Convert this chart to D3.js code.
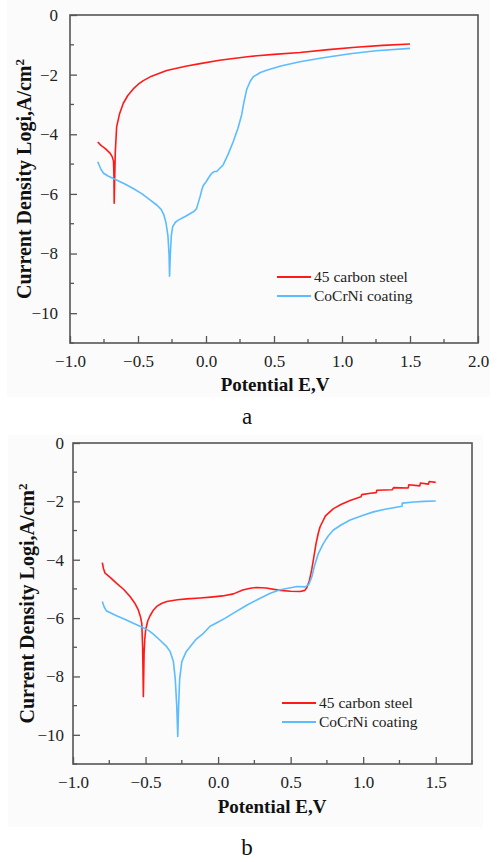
<!DOCTYPE html>
<html>
<head>
<meta charset="utf-8">
<script src="https://d3js.org/d3.v7.min.js"></script>
<style>
  body { margin: 0; background: #fff; }
  svg { display: block; }
  svg text { font-family: "Times New Roman", "Liberation Serif", Times !important; }
</style>
</head>
<body>
<svg id="chart" width="497" height="862"></svg>
<script>
// series names / colours
var seriesNames = ["45 carbon steel", "CoCrNi coating"];
var seriesColors = ["#ff1a1a", "#5bbcff"];

// panel a: [potential E (V), log i]
var steelA = [[-0.796,-4.26],[-0.77,-4.38],[-0.74,-4.48],[-0.706,-4.63],[-0.69,-4.75],[-0.68,-4.9],[-0.677,-5.4],[-0.675,-6.31],
  [-0.672,-5.6],[-0.667,-4.6],[-0.657,-3.75],[-0.635,-3.3],[-0.608,-2.96],[-0.575,-2.7],[-0.535,-2.48],[-0.5,-2.33],
  [-0.461,-2.2],[-0.4,-2.05],[-0.289,-1.86],[-0.15,-1.72],[-0.044,-1.63],[0.1,-1.52],[0.2,-1.46],[0.32,-1.39],
  [0.5,-1.32],[0.691,-1.26],[0.9,-1.16],[1.1,-1.08],[1.3,-1.02],[1.5,-0.97]];
var coatingA = [[-0.796,-4.92],[-0.775,-5.15],[-0.755,-5.3],[-0.72,-5.4],[-0.682,-5.48],[-0.6,-5.66],[-0.535,-5.82],[-0.47,-6.0],
  [-0.412,-6.2],[-0.36,-6.38],[-0.33,-6.52],[-0.31,-6.7],[-0.295,-6.95],[-0.28,-7.4],[-0.272,-8.0],[-0.268,-8.76],
  [-0.262,-8.0],[-0.255,-7.4],[-0.245,-7.1],[-0.225,-6.95],[-0.204,-6.88],[-0.15,-6.75],[-0.093,-6.6],[-0.07,-6.5],
  [-0.057,-6.3],[-0.044,-6.1],[-0.03,-5.85],[-0.02,-5.72],[0.0,-5.6],[0.02,-5.45],[0.042,-5.31],[0.06,-5.25],
  [0.079,-5.25],[0.1,-5.15],[0.127,-5.02],[0.16,-4.7],[0.2,-4.25],[0.235,-3.8],[0.262,-3.35],[0.28,-2.9],
  [0.299,-2.5],[0.325,-2.22],[0.348,-2.07],[0.4,-1.93],[0.446,-1.85],[0.55,-1.71],[0.691,-1.57],[0.85,-1.44],
  [1.059,-1.3],[1.25,-1.2],[1.5,-1.12]];

// panel b
var steelB = [[-0.798,-4.1],[-0.79,-4.3],[-0.779,-4.46],[-0.74,-4.62],[-0.699,-4.81],[-0.65,-5.02],[-0.607,-5.26],[-0.575,-5.48],
  [-0.55,-5.72],[-0.535,-5.95],[-0.526,-6.18],[-0.52,-7.0],[-0.515,-8.69],[-0.51,-7.2],[-0.505,-6.7],[-0.499,-6.4],
  [-0.485,-6.1],[-0.469,-5.92],[-0.445,-5.72],[-0.423,-5.6],[-0.39,-5.5],[-0.354,-5.43],[-0.28,-5.37],[-0.216,-5.34],
  [-0.124,-5.31],[-0.05,-5.28],[0.03,-5.24],[0.106,-5.17],[0.17,-5.04],[0.222,-4.98],[0.267,-4.95],[0.33,-4.97],
  [0.428,-5.05],[0.5,-5.08],[0.566,-5.09],[0.598,-5.05],[0.612,-4.95],[0.63,-4.7],[0.645,-4.35],[0.657,-4.0],
  [0.675,-3.45],[0.69,-3.1],[0.703,-2.87],[0.74,-2.5],[0.795,-2.25],[0.85,-2.1],[0.91,-1.97],[0.985,-1.84],
  [0.99,-1.77],[1.05,-1.72],[1.09,-1.7],[1.094,-1.62],[1.2,-1.6],[1.21,-1.53],[1.31,-1.54],[1.315,-1.43],
  [1.39,-1.47],[1.395,-1.37],[1.45,-1.41],[1.455,-1.32],[1.5,-1.35]];
var coatingB = [[-0.798,-5.43],[-0.785,-5.62],[-0.768,-5.76],[-0.7,-5.92],[-0.64,-6.05],[-0.584,-6.18],[-0.52,-6.32],[-0.48,-6.42],
  [-0.446,-6.55],[-0.4,-6.76],[-0.354,-6.98],[-0.33,-7.15],[-0.308,-7.49],[-0.295,-8.1],[-0.285,-9.0],[-0.278,-10.06],
  [-0.272,-9.0],[-0.265,-8.1],[-0.25,-7.49],[-0.22,-7.15],[-0.193,-6.98],[-0.15,-6.72],[-0.101,-6.52],[-0.055,-6.28],
  [-0.009,-6.16],[0.05,-6.0],[0.106,-5.83],[0.2,-5.55],[0.29,-5.32],[0.36,-5.15],[0.428,-5.03],[0.5,-4.96],
  [0.543,-4.92],[0.6,-4.93],[0.625,-4.85],[0.645,-4.6],[0.665,-4.2],[0.69,-3.8],[0.726,-3.44],[0.76,-3.18],
  [0.795,-2.98],[0.85,-2.8],[0.91,-2.64],[1.0,-2.48],[1.071,-2.36],[1.15,-2.27],[1.267,-2.17],[1.27,-2.06],
  [1.35,-2.02],[1.42,-2.0],[1.5,-1.99]];

var yTicks = [0, -2, -4, -6, -8, -10];
var panels = [
  {series: [steelA, coatingA], xMax: 2.0, xTicks: [-1, -0.5, 0, 0.5, 1, 1.5, 2],
   x0: 70, x1: 478, y0: 15, y1: 343, bg: [7, 0, 490, 397], legX: 277, legY: 277,
   titleX: 275, titleY: 391, yTitleX: 31, caption: "a", capY: 424},
  {series: [steelB, coatingB], xMax: 1.75, xTicks: [-1, -0.5, 0, 0.5, 1, 1.5],
   x0: 73, x1: 472, y0: 443, y1: 764, bg: [8, 435, 483, 827], legX: 282, legY: 703,
   titleX: 272, titleY: 813, yTitleX: 34, caption: "b", capY: 855}
];

var svg = d3.select("#chart");
var axisColor = "#555";

panels.forEach(function(p) {
  var g = svg.append("g");
  g.append("rect")
    .attr("x", p.bg[0]).attr("y", p.bg[1])
    .attr("width", p.bg[2] - p.bg[0]).attr("height", p.bg[3] - p.bg[1])
    .attr("fill", "#fbfbfb");

  var x = d3.scaleLinear().domain([-1, p.xMax]).range([p.x0, p.x1]);
  var y = d3.scaleLinear().domain([-11, 0]).range([p.y1, p.y0]);

  // minor ticks (inward)
  var xMinor = d3.range(-1, p.xMax + 0.001, 0.25).filter(function(v) { return Math.abs(v * 2 - Math.round(v * 2)) > 0.01; });
  var yMinor = d3.range(-11, 0, 2);
  g.selectAll(".xmin").data(xMinor).enter().append("line")
    .attr("x1", x).attr("x2", x).attr("y1", p.y1).attr("y2", p.y1 - 4)
    .attr("stroke", axisColor).attr("stroke-width", 1.3);
  g.selectAll(".ymin").data(yMinor).enter().append("line")
    .attr("y1", y).attr("y2", y).attr("x1", p.x0).attr("x2", p.x0 + 4)
    .attr("stroke", axisColor).attr("stroke-width", 1.3);

  // major ticks via d3 axes, drawn inward
  var xAxis = g.append("g").attr("transform", "translate(0," + p.y1 + ")")
    .call(d3.axisBottom(x).tickValues(p.xTicks).tickSizeInner(-7).tickSizeOuter(0).tickPadding(12)
      .tickFormat(function(d) { return d3.format(".1f")(d).replace("-", "\u2212"); }));
  var yAxis = g.append("g").attr("transform", "translate(" + p.x0 + ",0)")
    .call(d3.axisLeft(y).tickValues(yTicks).tickSizeInner(-7).tickSizeOuter(0).tickPadding(p === panels[0] ? 12 : 9)
      .tickFormat(function(d) { return String(d).replace("-", "\u2212"); }));
  [xAxis, yAxis].forEach(function(a) {
    a.attr("font-family", null);
    a.select(".domain").remove();
    a.selectAll(".tick line").attr("stroke", axisColor).attr("stroke-width", 1.3);
    a.selectAll("text").attr("font-size", 17).attr("fill", "#222");
  });

  // frame
  g.append("rect")
    .attr("x", p.x0).attr("y", p.y0).attr("width", p.x1 - p.x0).attr("height", p.y1 - p.y0)
    .attr("fill", "none").attr("stroke", axisColor).attr("stroke-width", 1.6);

  var lineLin = d3.line().x(function(d) { return x(d[0]); }).y(function(d) { return y(d[1]); });
  p.series.forEach(function(s, i) {
    g.append("path").datum(s)
      .attr("d", lineLin)
      .attr("fill", "none").attr("stroke", seriesColors[i]).attr("stroke-width", 1.6)
      .attr("stroke-linejoin", "round");
  });

  // legend
  seriesNames.forEach(function(n, i) {
    var ly = p.legY + i * 19;
    g.append("line").attr("x1", p.legX).attr("x2", p.legX + 34).attr("y1", ly).attr("y2", ly)
      .attr("stroke", seriesColors[i]).attr("stroke-width", 2);
    g.append("text").attr("x", p.legX + 37).attr("y", ly + 5)
      .attr("font-size", 15.5).attr("fill", "#222").text(n);
  });

  // axis titles
  g.append("text").attr("x", p.titleX).attr("y", p.titleY).attr("text-anchor", "middle")
    .attr("font-size", 19).attr("font-weight", "bold").attr("fill", "#111").text("Potential E,V");
  var yt = g.append("text")
    .attr("transform", "translate(" + p.yTitleX + "," + ((p.y0 + p.y1) / 2) + ") rotate(-90)")
    .attr("text-anchor", "middle").attr("font-size", 20).attr("font-weight", "bold").attr("fill", "#111");
  yt.append("tspan").text("Current Density Logi,A/cm");
  yt.append("tspan").attr("dy", -7).attr("font-size", 13).text("2");

  g.append("text").attr("x", 247).attr("y", p.capY).attr("text-anchor", "middle")
    .attr("font-size", 23).attr("fill", "#111").text(p.caption);
});
</script>
</body>
</html>
